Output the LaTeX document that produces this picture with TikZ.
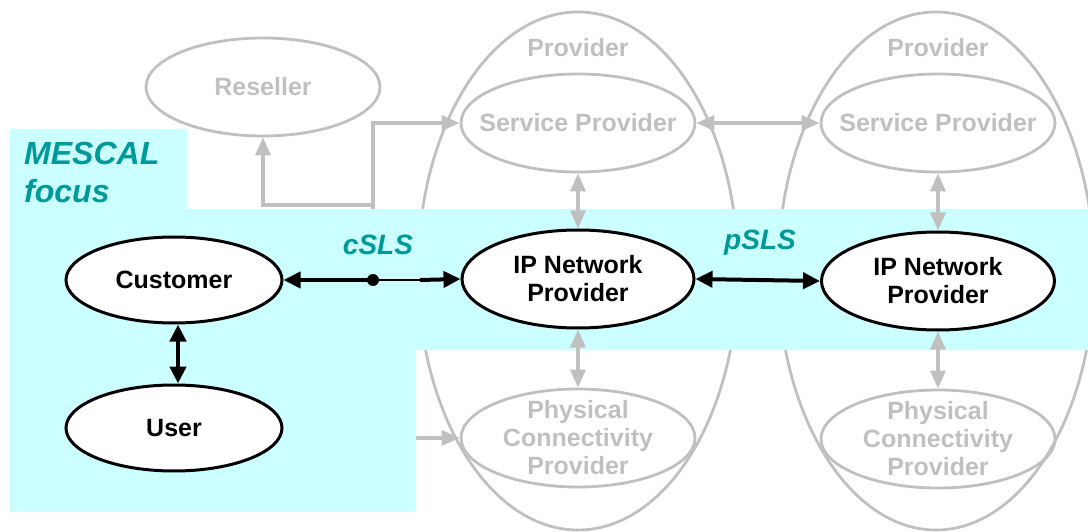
\documentclass[tikz,border=0pt]{standalone}
\usepackage{fontspec}
\setmainfont{Liberation Sans}
\usetikzlibrary{arrows.meta,shapes.geometric}
\definecolor{focusfill}{RGB}{204,255,255}
\definecolor{focusteal}{RGB}{0,153,153}
\definecolor{faded}{RGB}{192,192,192}

\begin{document}
\begin{tikzpicture}[x=1pt,y=-1pt,
  btip/.tip={Triangle[length=17pt,width=16pt]},
  gtip/.tip={Triangle[length=18pt,width=15pt]},
  labelfont/.style={font=\fontsize{25}{28}\selectfont\bfseries},
  actor/.style={ellipse, draw=black, line width=3pt, fill=white, inner sep=0pt,
    labelfont, align=center},
  role/.style={ellipse, draw=faded, line width=2.8pt, inner xsep=-20pt, inner ysep=-12pt,
    labelfont, text=faded, align=center, minimum width=234pt, minimum height=98pt},
  outline/.style={draw=faded, line width=2.8pt},
  glink/.style={draw=faded, line width=3.5pt, arrows={-gtip}},
  gboth/.style={draw=faded, line width=3.5pt, arrows={gtip-gtip}},
  blink/.style={draw=black, line width=4pt},
  slslabel/.style={font=\fontsize{28}{30}\selectfont\bfseries\itshape, text=focusteal}
]
\useasboundingbox (0,0) rectangle (1088,532);
\clip (0,0) rectangle (1088,532);

% the two provider domains
\draw[outline] (578,271) ellipse [x radius=160pt, y radius=259pt];
\draw[outline] (936,271) ellipse [x radius=158pt, y radius=259pt];
\node[labelfont, text=faded, anchor=base] (prov1) at (578,57) {Provider};
\node[labelfont, text=faded, anchor=base] (prov2) at (938,57) {Provider};

% nodes
\node[role] (res) at (263,87) {Reseller};
\node[role] (sp1) at (578,123) {Service Provider};
\node[role] (sp2) at (938,123) {Service Provider};
\node[role] (pcp1) at (578,438) {Physical\\Connectivity\\Provider};
\node[role] (pcp2) at (938,439) {Physical\\Connectivity\\Provider};

% reseller connections, running under the focus area
\coordinate (hub) at (373,280);
\coordinate (split) at (373,205);
\draw[glink] (hub) |- (sp1.west);
\draw[glink] (split) -| (res.south);
\draw[glink] (hub) |- (pcp1.west);

% focus area
\fill[focusfill] (10,129) -- (187,129) -- (187,209) -- (1088,209) -- (1088,350)
  -- (416,350) -- (416,512) -- (10,512) -- cycle;
\node[font=\fontsize{32}{38}\selectfont\bfseries\itshape, text=focusteal,
  align=left, anchor=north west, inner sep=0pt] (focus) at (24,142) {MESCAL\\focus};

% actors inside the focus area
\node[actor, minimum width=216pt, minimum height=86pt] (cust) at (174,280) {Customer};
\node[actor, minimum width=216pt, minimum height=86pt] (user) at (174,428) {User};
\node[actor, minimum width=232pt, minimum height=98pt] (ip1) at (578,279) {IP Network\\Provider};
\node[actor, minimum width=233pt, minimum height=98pt] (ip2) at (938,281) {IP Network\\Provider};

% provider-side relations
\draw[gboth] (sp1.east) -- (sp2.west);
\draw[gboth] (sp1.south) -- (ip1.north);
\draw[gboth] (sp2.south) -- (ip2.north);
\draw[gboth] (ip1.south) -- (pcp1.north);
\draw[gboth] (ip2.south) -- (pcp2.north);

% service level specifications
\coordinate (thickstart) at (420,280);
\draw[blink, arrows={btip-}] (cust.east) -- (hub);
\draw[draw=black, line width=2pt] (hub) -- (thickstart);
\draw[blink, arrows={-btip}] (thickstart) -- (ip1.west);
\fill[black] (hub) circle [radius=6pt];
\draw[blink, arrows={btip-btip}] (ip1.east) -- (ip2.west);
\draw[blink, line width=4.5pt, arrows={btip-btip}] ([xshift=4pt]cust.south) -- ([xshift=4pt]user.north);

\node[slslabel] (csls) at (378,245) {cSLS};
\node[slslabel] (psls) at (760,243) {pSLS};
\end{tikzpicture}
\end{document}
